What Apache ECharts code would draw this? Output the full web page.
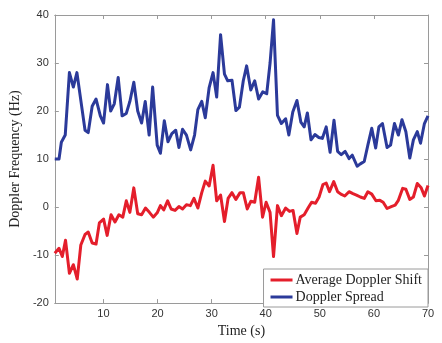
<!DOCTYPE html>
<html>
<head>
<meta charset="utf-8">
<script src="https://cdn.jsdelivr.net/npm/echarts@6/dist/echarts.min.js"></script>
<style>
  html, body { margin: 0; padding: 0; background: #fff; }
  #chart { width: 442px; height: 343px; }
</style>
</head>
<body>
<div id="chart"></div>
<script>
  // Time (s) and value for each line
  const shiftTime = [1.0, 1.78, 2.39, 2.98, 3.70, 4.43, 5.15, 5.81, 6.59, 7.18, 7.91, 8.63, 9.24, 10.02, 10.68,
    11.40, 12.13, 12.85, 13.57, 14.22, 14.88, 15.61, 16.33, 17.05, 17.77, 18.49, 19.21, 19.93, 20.53, 21.14,
    21.86, 22.51, 23.23, 23.95, 24.62, 25.34, 26.06, 26.73, 27.45, 28.17, 28.82, 29.54, 30.26, 30.93, 31.65,
    32.37, 33.04, 33.76, 34.48, 35.26, 35.85, 36.58, 37.24, 37.96, 38.68, 39.41, 40.07, 40.80, 41.44, 42.17,
    42.89, 43.68, 44.40, 45.05, 45.77, 46.38, 47.11, 47.88, 48.48, 49.20, 49.86, 50.58, 51.18, 51.79, 52.57,
    53.29, 53.89, 54.61, 55.40, 56.12, 56.77, 57.49, 58.21, 58.88, 59.60, 60.38, 61.10, 61.71, 62.43, 63.21,
    63.93, 64.52, 65.32, 65.91, 66.63, 67.30, 68.02, 68.74, 69.34, 70.0];
  const shiftVals = [-9.6, -8.6, -10.3, -6.9, -13.8, -12, -15, -7.9, -5.7, -5.2, -7.5, -7.7, -3.3, -2.5, -5.9,
    -1.6, -3.1, -1.6, -2.1, 1.3, -1.1, 4, -1.4, -1.6, -0.2, -1.1, -2.1, -1.2, 0.3, -0.6,
    1.3, -0.4, -0.7, 0.1, -0.4, 0.5, 0.3, 1.8, -0.2, 3, 5.4, 4.4, 8.7, 1.3, 2.5,
    -3, 1.8, 3, 1.6, 3, 3, -0.4, 1.2, 1, 6.2, -2.1, 1, -1.1, -10.3, 0.3,
    -1.8, -0.2, -0.9, -0.7, -5.5, -2.1, -1.6, -0.1, 1, 0.8, 2.1, 4.7, 5.0, 3.2, 5.3,
    3.2, 2.7, 2.3, 3.2, 2.8, 2.5, 2.1, 1.8, 3.2, 2.7, 1.3, 1.4, 1, -0.3, 0.1,
    0.4, 1.4, 3.9, 3.7, 1.6, 2.1, 4.9, 4, 2.3, 4.5];

  const spreadTime = [1.0, 1.78, 2.21, 2.93, 3.70, 4.43, 5.09, 6.59, 7.18, 7.91, 8.63, 9.42, 10.02, 10.74, 11.33,
    12.0, 12.72, 13.44, 14.22, 14.88, 15.61, 16.33, 17.05, 17.72, 18.44, 19.09, 19.93, 20.53, 21.25, 21.92,
    22.64, 23.36, 23.95, 24.62, 25.34, 26.12, 26.84, 27.45, 28.17, 28.82, 29.54, 30.26, 30.93, 31.65, 32.37,
    32.97, 33.76, 34.48, 35.13, 35.85, 36.47, 37.24, 37.96, 38.68, 39.46, 40.18, 40.80, 41.44, 42.17, 42.89,
    43.68, 44.27, 45.0, 45.77, 46.49, 47.11, 47.70, 48.37, 49.09, 49.81, 50.46, 51.18, 51.90, 52.62, 53.29,
    53.96, 54.68, 55.40, 55.99, 56.90, 57.49, 58.21, 58.88, 59.60, 60.32, 60.92, 61.58, 62.43, 63.08, 63.80,
    64.52, 65.19, 65.91, 66.63, 67.30, 68.02, 68.62, 69.34, 70.0];
  const spreadVals = [10, 10, 13.5, 15, 28, 25, 28, 16, 15.5, 21, 22.5, 19, 17.5, 25.5, 20,
    21.5, 27, 19, 19.5, 22, 26, 20, 17.5, 22, 15, 25, 12.9, 11.2, 18, 13.6,
    15.3, 16, 12.4, 16.2, 15, 11.9, 15, 20.3, 22, 18.6, 24.9, 28, 22.9, 35.9, 27.7,
    26.3, 26.4, 20.1, 20.8, 26.3, 29.4, 24.4, 26.3, 22.5, 24, 23.6, 30, 39, 19.1, 17.4,
    18.4, 15, 19.8, 22.2, 17.7, 16.7, 19.6, 14, 15.1, 14.5, 14.3, 16.7, 11.4, 18.1, 11.6,
    10.9, 11.6, 10.1, 10.8, 8.5, 9, 9.5, 12.9, 16.4, 12.3, 16.7, 17.4, 12.4, 12.9, 17.4,
    15, 18.2, 15.7, 10.2, 14, 15.7, 13.3, 17.4, 19];

  const seriesNames = ['Average Doppler Shift', 'Doppler Spread'];
  const xTicks = [10, 20, 30, 40, 50, 60, 70];
  const yTicks = [-20, -10, 0, 10, 20, 30, 40];

  const toPairs = (t, v) => t.map((x, i) => [x, v[i]]);

  const chart = echarts.init(document.getElementById('chart'));
  const axisColor = '#9a9a9a';
  const labelStyle = { color: '#333', fontSize: 11, fontFamily: 'Liberation Sans, Arial, sans-serif' };
  const frameLine = { show: true, onZero: false, lineStyle: { color: axisColor } };

  chart.setOption({
    animation: false,
    grid: { left: 45, right: 14, top: 15, bottom: 36 },
    legend: {
      data: seriesNames,
      orient: 'vertical',
      right: 14,
      bottom: 36,
      backgroundColor: '#fff',
      borderColor: axisColor,
      borderWidth: 1,
      borderRadius: 0,
      padding: [4, 6, 3, 7],
      itemGap: 3,
      itemWidth: 22,
      itemHeight: 3,
      icon: 'rect',
      textStyle: { fontFamily: 'Liberation Serif, serif', fontSize: 14, color: '#222', padding: [0, 0, 0, -2] }
    },
    xAxis: [{
      type: 'value',
      min: 1,
      max: 70,
      interval: 10,
      name: 'Time (s)',
      nameLocation: 'middle',
      nameGap: 20,
      nameTextStyle: { fontFamily: 'Liberation Serif, serif', fontSize: 14, color: '#222' },
      axisLine: frameLine,
      axisTick: { show: true, inside: true, length: 4, lineStyle: { color: axisColor },
        customValues: xTicks },
      axisLabel: Object.assign({ margin: 5, customValues: xTicks }, labelStyle),
      splitLine: { show: false }
    }, {
      type: 'value',
      position: 'top',
      min: 1,
      max: 70,
      axisLine: frameLine,
      axisTick: { show: true, inside: true, length: 4, lineStyle: { color: axisColor },
        customValues: xTicks },
      axisLabel: { show: false },
      splitLine: { show: false }
    }],
    yAxis: [{
      type: 'value',
      min: -20,
      max: 40,
      interval: 10,
      name: 'Doppler Frequency (Hz)',
      nameLocation: 'middle',
      nameGap: 30,
      nameTextStyle: { fontFamily: 'Liberation Serif, serif', fontSize: 14, color: '#222' },
      axisLine: frameLine,
      axisTick: { show: true, inside: true, length: 4, lineStyle: { color: axisColor } },
      axisLabel: Object.assign({ margin: 6, customValues: yTicks }, labelStyle),
      splitLine: { show: false }
    }, {
      type: 'value',
      position: 'right',
      min: -20,
      max: 40,
      interval: 10,
      axisLine: frameLine,
      axisTick: { show: true, inside: true, length: 4, lineStyle: { color: axisColor } },
      axisLabel: { show: false },
      splitLine: { show: false }
    }],
    series: [{
      name: seriesNames[0],
      type: 'line',
      data: toPairs(shiftTime, shiftVals),
      showSymbol: false,
      color: '#e41e2b',
      lineStyle: { width: 3, color: '#e41e2b', join: 'round' }
    }, {
      name: seriesNames[1],
      type: 'line',
      data: toPairs(spreadTime, spreadVals),
      showSymbol: false,
      color: '#2b3a9a',
      lineStyle: { width: 3, color: '#2b3a9a', join: 'round' }
    }]
  });
</script>
</body>
</html>
